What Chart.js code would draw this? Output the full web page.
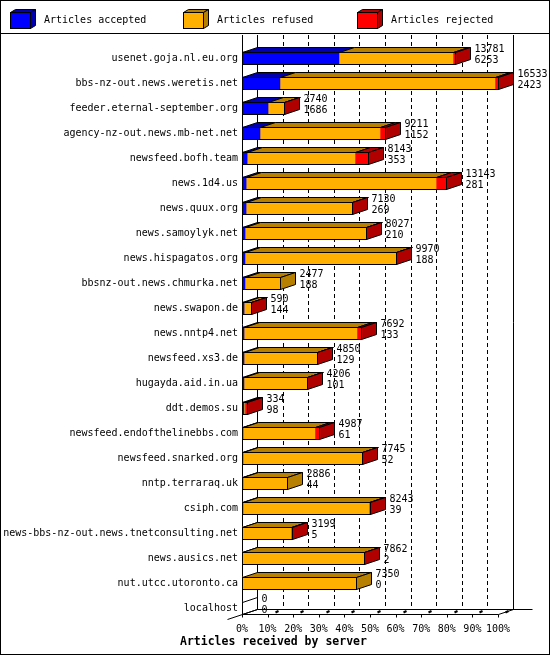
<!DOCTYPE html>
<html>
<head>
<meta charset="utf-8">
<script src="https://cdn.jsdelivr.net/npm/chart.js@4.4.1/dist/chart.umd.min.js"></script>
<style>
  html, body { margin: 0; padding: 0; background: #fff; }
  #wrap { width: 550px; height: 655px; }
</style>
</head>
<body>
<div id="wrap"><canvas id="chart" width="550" height="655"></canvas></div>
<script>
// Articles per server
const hosts = [
  'usenet.goja.nl.eu.org', 'bbs-nz-out.news.weretis.net', 'feeder.eternal-september.org',
  'agency-nz-out.news.mb-net.net', 'newsfeed.bofh.team', 'news.1d4.us', 'news.quux.org',
  'news.samoylyk.net', 'news.hispagatos.org', 'bbsnz-out.news.chmurka.net', 'news.swapon.de',
  'news.nntp4.net', 'newsfeed.xs3.de', 'hugayda.aid.in.ua', 'ddt.demos.su',
  'newsfeed.endofthelinebbs.com', 'newsfeed.snarked.org', 'nntp.terraraq.uk', 'csiph.com',
  'news-bbs-nz-out.news.tnetconsulting.net', 'news.ausics.net', 'nut.utcc.utoronto.ca', 'localhost'
];
const offered  = [13781, 16533, 2740, 9211, 8143, 13143, 7130, 8027, 9970, 2477, 590,
                  7692, 4850, 4206, 334, 4987, 7745, 2886, 8243, 3199, 7862, 7350, 0];
const accepted = [6253, 2423, 1686, 1152, 353, 281, 269, 210, 188, 188, 144,
                  133, 129, 101, 98, 61, 52, 44, 39, 5, 2, 0, 0];
const refused  = [7378, 13910, 1004, 7759, 6940, 12262, 6841, 7797, 9742, 2289, 436,
                  7279, 4711, 4095, 80, 4626, 7683, 2842, 8194, 3189, 7855, 7350, 0];
const rejected = [150, 200, 50, 300, 850, 600, 20, 20, 40, 0, 10,
                  280, 10, 10, 156, 300, 10, 0, 10, 5, 5, 0, 0];
const percentTicks = ['0%', '10%', '20%', '30%', '40%', '50%', '60%', '70%', '80%', '90%', '100%'];
const seriesNames = ['Articles accepted', 'Articles refused', 'Articles rejected'];

const front = ['#0000ff', '#ffb000', '#ff0000'];
const dark  = ['#0000b0', '#b88000', '#b00000'];
const FONT = '"DejaVu Sans Mono", "Liberation Mono", monospace';
const DX = 15, DY = 5;
const maxOffered = Math.max(...offered);

function poly(ctx, pts, fill) {
  ctx.beginPath();
  ctx.moveTo(pts[0][0], pts[0][1]);
  for (let i = 1; i < pts.length; i++) ctx.lineTo(pts[i][0], pts[i][1]);
  ctx.closePath();
  if (fill) { ctx.fillStyle = fill; ctx.fill(); }
  ctx.stroke();
}

function line(ctx, x1, y1, x2, y2) {
  ctx.beginPath();
  ctx.moveTo(x1, y1);
  ctx.lineTo(x2, y2);
  ctx.stroke();
}

const depthPlugin = {
  id: 'depth',
  beforeDatasetsDraw(chart) {
    const ctx = chart.ctx;
    const xs = chart.scales.x, ys = chart.scales.y;
    const top = 35;
    const base = Math.round(ys.getPixelForValue(hosts.length - 1)) + 6 + 0.5;
    const back = base - DY;
    ctx.save();
    ctx.strokeStyle = '#000';
    ctx.lineWidth = 1;

    xs.ticks.forEach((t, i) => {
      const x = Math.round(xs.getPixelForValue(t.value)) + 0.5;
      ctx.setLineDash(i === 0 || i === xs.ticks.length - 1 ? [] : [4, 3]);
      line(ctx, x + DX, top, x + DX, back);
      ctx.setLineDash([]);
      line(ctx, x, base, x, base + 3);
      if (i > 0) {
        ctx.lineWidth = 2;
        line(ctx, x + 7, base - 2, x + 10, base - 3.5);
        ctx.lineWidth = 1;
      }
    });

    const x0 = Math.round(xs.getPixelForValue(0)) + 0.5;
    const x1 = Math.round(xs.getPixelForValue(maxOffered)) + 0.5;
    line(ctx, x0, top, x0, base);
    line(ctx, x0, base, x1, base);
    line(ctx, x1, base, x1 + DX, back);
    line(ctx, x0 + DX, back, x1 + DX + 19, back);
    line(ctx, x0 - DX, base + DY, x0 + DX, back);
    ctx.restore();
  },
  afterDatasetsDraw(chart) {
    const ctx = chart.ctx;
    const xs = chart.scales.x;
    ctx.save();
    ctx.strokeStyle = '#000';
    ctx.lineWidth = 1;
    hosts.forEach((h, i) => {
      const segs = [];
      chart.data.datasets.forEach((ds, d) => {
        const el = chart.getDatasetMeta(d).data[i];
        if (ds.data[i] > 0) segs.push({ el, d });
      });
      const ref = chart.getDatasetMeta(0).data[i];
      const yc = Math.round(ref.y);
      const t = yc - 6 + 0.5, b = yc + 6 + 0.5;
      const start = Math.round(xs.getPixelForValue(0)) + 0.5;
      let end = start;

      segs.forEach(s => {
        const a = Math.round(s.el.base) + 0.5;
        const e = Math.round(s.el.x) + 0.5;
        ctx.fillStyle = front[s.d];
        ctx.fillRect(a, t, Math.max(e - a, 1), b - t);
        poly(ctx, [[a, t], [a + DX, t - DY], [Math.max(e, a + 1) + DX, t - DY], [Math.max(e, a + 1), t]], dark[s.d]);
        end = Math.max(end, e);
      });
      const last = segs.length ? dark[segs[segs.length - 1].d] : null;
      poly(ctx, [[end, t], [end + DX, t - DY], [end + DX, b - DY], [end, b]], last);
      ctx.strokeRect(start, t, end - start, b - t);

      ctx.fillStyle = '#000';
      ctx.font = '10px ' + FONT;
      ctx.textAlign = 'left';
      ctx.textBaseline = 'middle';
      ctx.fillText(String(offered[i]), end + DX + 4, yc - 9);
      ctx.fillText(String(accepted[i]), end + DX + 4, yc + 2);
    });
    ctx.restore();
  },
  afterDraw(chart) {
    const ctx = chart.ctx;
    ctx.save();
    ctx.strokeStyle = '#000';
    ctx.lineWidth = 1;
    // legend
    const lx = [10, 183, 357];
    seriesNames.forEach((name, d) => {
      const x = lx[d] + 0.5, y = 12.5, w = 20, hgt = 16, dx = 5, dy = 3;
      ctx.fillStyle = front[d];
      ctx.fillRect(x, y, w, hgt);
      ctx.strokeRect(x, y, w, hgt);
      poly(ctx, [[x, y], [x + dx, y - dy], [x + w + dx, y - dy], [x + w, y]], dark[d]);
      poly(ctx, [[x + w, y], [x + w + dx, y - dy], [x + w + dx, y + hgt - dy], [x + w, y + hgt]], dark[d]);
      ctx.fillStyle = '#000';
      ctx.font = '10px ' + FONT;
      ctx.textAlign = 'left';
      ctx.textBaseline = 'middle';
      ctx.fillText(name, lx[d] + 34, 20);
    });
    line(ctx, 0, 33.5, 550, 33.5);
    // axis title
    ctx.font = 'bold 11.5px ' + FONT;
    ctx.fillStyle = '#000';
    ctx.textBaseline = 'middle';
    ctx.fillText('Articles received by server', 180, 642);
    ctx.strokeRect(0.5, 0.5, 549, 654);
    ctx.restore();
  }
};

new Chart(document.getElementById('chart'), {
  type: 'bar',
  data: {
    labels: hosts,
    datasets: [accepted, refused, rejected].map((vals, d) => ({
      label: seriesNames[d],
      data: vals,
      backgroundColor: front[d],
      borderWidth: 0,
      barThickness: 12
    }))
  },
  options: {
    indexAxis: 'y',
    responsive: false,
    animation: false,
    devicePixelRatio: 1,
    layout: { padding: { top: 45.5, right: 52, bottom: 19.5, left: 0 } },
    plugins: { legend: { display: false }, tooltip: { enabled: false } },
    scales: {
      x: {
        type: 'linear',
        stacked: true,
        min: 0,
        max: maxOffered,
        afterBuildTicks: scale => {
          scale.ticks = percentTicks.map((_, i) => ({ value: maxOffered * i / 10 }));
        },
        afterFit: scale => { scale.height = 15; },
        grid: { display: false, drawTicks: false },
        border: { display: false },
        ticks: {
          autoSkip: false,
          maxRotation: 0,
          padding: 3,
          color: '#000',
          font: { family: FONT, size: 10 },
          callback: (v, i) => percentTicks[i]
        }
      },
      y: {
        stacked: true,
        afterFit: scale => { scale.width = 242; },
        grid: { display: false, drawTicks: false },
        border: { display: false },
        ticks: {
          autoSkip: false,
          padding: 4,
          color: '#000',
          font: { family: FONT, size: 10 }
        }
      }
    }
  },
  plugins: [depthPlugin]
});
</script>
</body>
</html>
